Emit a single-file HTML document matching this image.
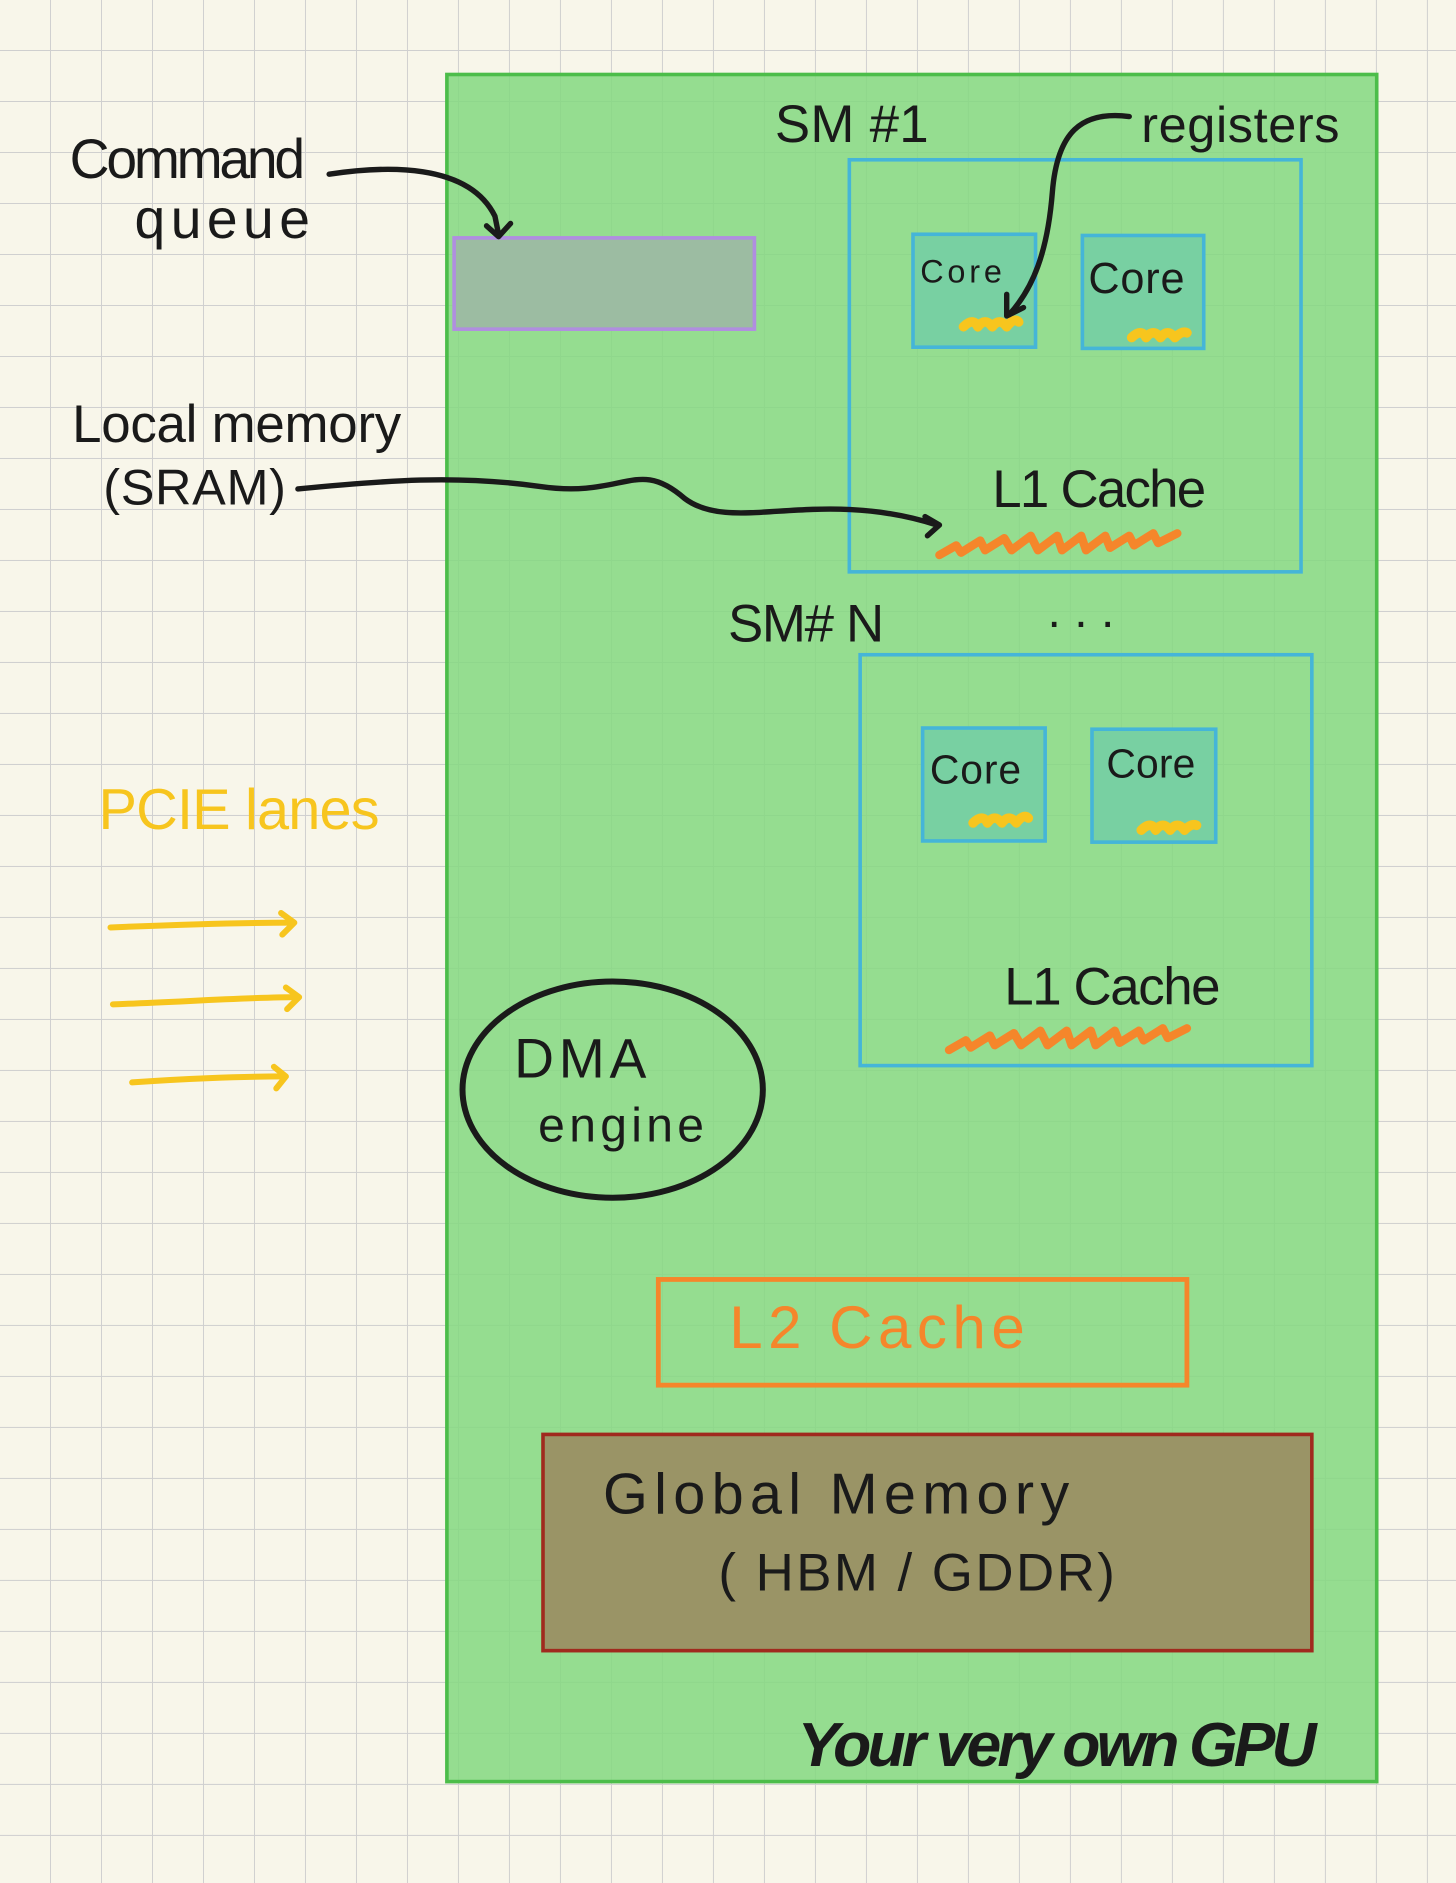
<!DOCTYPE html>
<html><head><meta charset="utf-8"><style>
html,body{margin:0;padding:0;background:#f8f6ea;}
svg{display:block;}
text{font-family:"Liberation Sans",sans-serif;}
</style></head><body>
<svg width="1456" height="1883" viewBox="0 0 1212 1567.4" preserveAspectRatio="none" xmlns="http://www.w3.org/2000/svg">
<defs>
<pattern id="g" width="42.45" height="42.45" patternUnits="userSpaceOnUse">
<path d="M42.45 0V42.45M0 42.45H42.45" stroke="#cfcfcf" stroke-width="1.6" fill="none"/>
</pattern>
</defs>
<rect width="1212" height="1567.4" fill="#f8f6ea"/>
<rect width="1212" height="1567.4" fill="url(#g)"/>
<!-- GPU -->
<rect x="372" y="62" width="774" height="1421" fill="#84d880" fill-opacity="0.85" stroke="#4cbd4a" stroke-width="3"/>
<!-- command queue -->
<rect x="378" y="198" width="250" height="76" fill="#9cbca2" stroke="#b08ee0" stroke-width="3"/>
<!-- SM1 -->
<rect x="707" y="133" width="376" height="343" fill="none" stroke="#45b5d8" stroke-width="3"/>
<rect x="760" y="195" width="102" height="94" fill="#78d0a2" stroke="#45b5d8" stroke-width="3"/>
<rect x="901" y="196" width="101" height="94" fill="#78d0a2" stroke="#45b5d8" stroke-width="3"/>
<!-- SMN -->
<rect x="716" y="545" width="376" height="342" fill="none" stroke="#45b5d8" stroke-width="3"/>
<rect x="768" y="606" width="102" height="94" fill="#78d0a2" stroke="#45b5d8" stroke-width="3"/>
<rect x="909" y="607" width="103" height="94" fill="#78d0a2" stroke="#45b5d8" stroke-width="3"/>
<!-- L2 -->
<rect x="548" y="1065" width="440" height="88" fill="none" stroke="#f5862b" stroke-width="4"/>
<!-- global -->
<rect x="452" y="1194" width="640" height="180" fill="#9a9466" stroke="#a02a1e" stroke-width="3"/>
<!-- DMA -->
<ellipse cx="510" cy="907" rx="125" ry="90" fill="none" stroke="#1a1a1a" stroke-width="5"/>

<!-- squiggles -->
<g fill="none" stroke="#f7c51e" stroke-width="8" stroke-linecap="round" stroke-linejoin="round">
<path d="M802 272 q8 -8 12 0 q6 -8 12 0 q6 -8 12 0 q6 -8 10 -4"/>
<path d="M942 281 q8 -8 12 0 q6 -8 12 0 q6 -8 12 0 q6 -6 10 -4"/>
<path d="M810 685 q8 -8 12 0 q6 -8 12 0 q6 -8 12 0 q6 -8 10 -4"/>
<path d="M950 691 q8 -8 12 0 q6 -8 12 0 q6 -8 12 0 q6 -6 10 -4"/>
</g>
<path d="M782 462 l14 -8 l4 6 l16 -10 l4 8 l16 -10 l6 10 l16 -12 l6 12 l16 -12 l4 12 l16 -12 l4 12 l16 -12 l4 10 l16 -10 l4 8 l16 -10 l4 8 l16 -8" fill="none" stroke="#f5862b" stroke-width="7" stroke-linecap="round" stroke-linejoin="round"/>
<path d="M790 874 l14 -8 l4 6 l16 -10 l4 8 l16 -10 l6 10 l16 -12 l6 12 l16 -12 l4 12 l16 -12 l4 12 l16 -12 l4 10 l16 -10 l4 8 l16 -10 l4 8 l16 -8" fill="none" stroke="#f5862b" stroke-width="7" stroke-linecap="round" stroke-linejoin="round"/>

<!-- arrows -->
<g fill="none" stroke="#1a1a1a" stroke-width="4.5" stroke-linecap="round" stroke-linejoin="round">
<path d="M274 145 C320 138 390 135 412 180 L415 195"/>
<path d="M405 188 L415 197 L425 186"/>
<path d="M248 407 C320 400 380 395 450 405 C520 415 530 380 570 415 C610 445 680 405 780 437"/>
<path d="M770 430 L782 437 L772 446"/>
<path d="M940 97 C900 92 880 110 876 160 C872 210 860 240 840 262"/>
<path d="M838 245 L838 263 L852 256"/>
</g>
<!-- PCIe arrows -->
<g fill="none" stroke="#f7c51e" stroke-width="5" stroke-linecap="round" stroke-linejoin="round">
<path d="M92 772 C140 770 200 768 244 768"/><path d="M234 760 L245 768 L235 778"/>
<path d="M94 836 C150 834 210 830 248 830"/><path d="M238 822 L249 830 L239 840"/>
<path d="M110 901 C150 898 200 896 236 896"/><path d="M228 888 L238 896 L230 906"/>
</g>

<!-- text -->
<g fill="#1a1a1a">
<text x="58" y="148" font-size="46" textLength="196">Command</text>
<text x="112" y="198" font-size="46" textLength="146">queue</text>
<text x="60" y="368" font-size="44" textLength="274">Local memory</text>
<text x="86" y="420" font-size="42" textLength="152">(SRAM)</text>
<text x="645" y="118" font-size="44" textLength="128">SM #1</text>
<text x="950" y="118" font-size="42" textLength="165">registers</text>
<text x="766" y="235" font-size="27" textLength="68">Core</text>
<text x="906" y="244" font-size="36" textLength="80">Core</text>
<text x="826" y="422" font-size="44" textLength="178">L1 Cache</text>
<text x="606" y="534" font-size="44" textLength="130">SM# N</text>
<text x="872" y="522" font-size="40">. . .</text>
<text x="774" y="652" font-size="34" textLength="76">Core</text>
<text x="921" y="647" font-size="34" textLength="74">Core</text>
<text x="836" y="836" font-size="44" textLength="180">L1 Cache</text>
<text x="428" y="897" font-size="46" textLength="110">DMA</text>
<text x="448" y="950" font-size="40" textLength="138">engine</text>
<text x="502" y="1260" font-size="48" textLength="388">Global Memory</text>
<text x="598" y="1324" font-size="44" textLength="330">( HBM / GDDR)</text>
<text x="664" y="1470" font-size="52" textLength="432" font-weight="bold" font-style="italic">Your very own GPU</text>
</g>
<text x="607" y="1122" font-size="50" fill="#f5862b" textLength="246">L2  Cache</text>
<text x="82" y="690" font-size="48" fill="#f7c51e" textLength="234">PCIE lanes</text>
</svg>
</body></html>
